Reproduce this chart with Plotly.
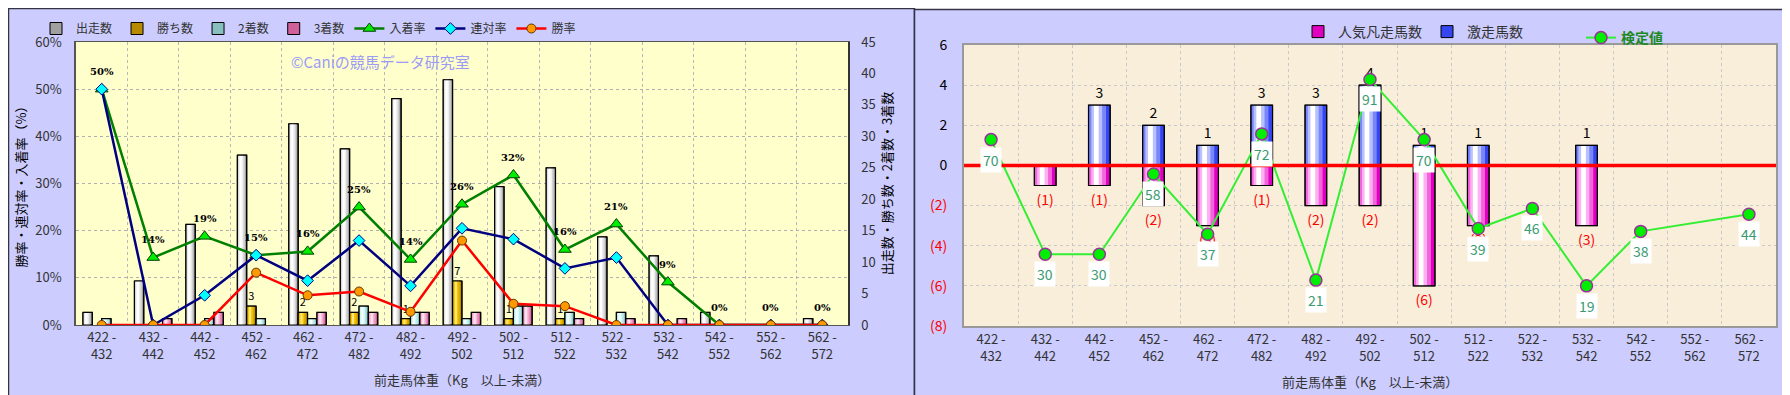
import plotly.graph_objects as go

# ---------------- data ----------------
categories = ["422 -<br>432", "432 -<br>442", "442 -<br>452", "452 -<br>462", "462 -<br>472",
              "472 -<br>482", "482 -<br>492", "492 -<br>502", "502 -<br>512", "512 -<br>522",
              "522 -<br>532", "532 -<br>542", "542 -<br>552", "552 -<br>562", "562 -<br>572"]

# left panel: counts (right axis)
runs = [2, 7, 16, 27, 32, 28, 36, 39, 22, 25, 14, 11, 2, 0, 1]
wins = [0, 0, 0, 3, 2, 2, 1, 7, 1, 1, 0, 0, 0, 0, 0]
seconds = [1, 0, 1, 1, 1, 3, 2, 1, 3, 2, 2, 0, 0, 0, 0]
thirds = [0, 1, 2, 0, 2, 2, 2, 2, 3, 1, 1, 1, 0, 0, 0]

# left panel: rates in % (left axis)
place_rate = [50.0, 14.3, 18.8, 14.8, 15.6, 25.0, 13.9, 25.6, 31.8, 16.0, 21.4, 9.1, 0, 0, 0]
quinella_rate = [50.0, 0, 6.3, 14.8, 9.4, 17.9, 8.3, 20.5, 18.2, 12.0, 14.3, 0, 0, 0, 0]
win_rate = [0, 0, 0, 11.1, 6.3, 7.1, 2.8, 17.9, 4.5, 4.0, 0, 0, 0, 0, 0]
place_labels = ["50%", "14%", "19%", "15%", "16%", "25%", "14%", "26%", "32%", "16%",
                "21%", "9%", "0%", "0%", "0%"]

# right panel
upset_counts = [0, 0, 3, 2, 1, 3, 3, 4, 1, 1, 0, 1, 0, 0, 0]          # 激走馬数
popular_fail = [0, -1, -1, -2, -3, -1, -2, -2, -6, -3, 0, -3, 0, 0, 0]  # 人気凡走馬数
test_values = [70, 30, 30, 58, 37, 72, 21, 91, 70, 39, 46, 19, 38, None, 44]

FONT = "Noto Sans CJK JP, Noto Sans, sans-serif"
W, H = 1790, 395


def px_x(v):
    return v / W


def px_y(v):
    return 1 - v / H


fig = go.Figure()


def nz(vals):
    return [v if v else None for v in vals]


def grad_bar(x, y, xa, ya, offset, width, cols, name, legend, text=None, textcolor="black",
             textsize=11):
    y = nz(y)
    # base (legend) bar
    fig.add_trace(go.Bar(x=x, y=y, xaxis=xa, yaxis=ya, offset=offset, width=width,
                         name=name, legend=legend, legendgroup=name,
                         marker=dict(color=cols[0], line=dict(color="black", width=1)),
                         hoverinfo="skip"))
    # highlight layers (cylinder shading)
    for frac, shift, c in zip([0.78, 0.5, 0.22], [0.08, 0.12, 0.14], cols[1:]):
        w = width * frac
        off = offset + (width - w) / 2 - width * shift
        fig.add_trace(go.Bar(x=x, y=y, xaxis=xa, yaxis=ya, offset=off, width=w,
                             showlegend=False, legendgroup=name, legend=legend,
                             marker=dict(color=c, line=dict(width=0)), hoverinfo="skip"))
    # outline on top, carries value labels
    fig.add_trace(go.Bar(x=x, y=y, xaxis=xa, yaxis=ya, offset=offset, width=width,
                         showlegend=False, legendgroup=name, legend=legend,
                         marker=dict(color="rgba(0,0,0,0)", line=dict(color="black", width=1.2)),
                         text=text, textposition="outside", cliponaxis=False,
                         constraintext="none",
                         textfont=dict(size=textsize, color=textcolor, family=FONT),
                         hoverinfo="skip"))


# ---------- left panel bars (primary y = counts, right side) ----------
bw = 0.182
grad_bar(categories, runs, "x", "y", -0.365, bw, ["#A0A0A0", "#D0D0D0", "#EEEEEE", "#FFFFFF"], "出走数", "legend")
grad_bar(categories, wins, "x", "y", -0.365 + bw, bw, ["#B88A00", "#DDAA00", "#F5C800", "#FFE680"], "勝ち数", "legend",
         text=[str(v) if v else "" for v in wins], textsize=11)
grad_bar(categories, seconds, "x", "y", -0.365 + 2 * bw, bw, ["#88BEBE", "#B4E4E4", "#D4F6F6", "#F2FFFF"], "2着数", "legend")
grad_bar(categories, thirds, "x", "y", -0.365 + 3 * bw, bw, ["#D0609A", "#E890BC", "#F6B8D6", "#FFE4F0"], "3着数", "legend")

# ---------- left panel lines (y2 = %, left side) ----------
fig.add_trace(go.Scatter(x=categories, y=place_rate, xaxis="x", yaxis="y2", name="入着率",
                         legend="legend", mode="lines+markers",
                         line=dict(color="#008000", width=2.5),
                         marker=dict(symbol="triangle-up", size=11, color="#00EE00",
                                     line=dict(color="#004000", width=1)),
                         hoverinfo="skip"))
fig.add_trace(go.Scatter(x=categories, y=quinella_rate, xaxis="x", yaxis="y2", name="連対率",
                         legend="legend", mode="lines+markers",
                         line=dict(color="#000080", width=2.5),
                         marker=dict(symbol="diamond", size=9, color="#00FFFF",
                                     line=dict(color="#000080", width=1)),
                         hoverinfo="skip"))
fig.add_trace(go.Scatter(x=categories, y=win_rate, xaxis="x", yaxis="y2", name="勝率",
                         legend="legend", mode="lines+markers",
                         line=dict(color="#FF0000", width=2.5),
                         marker=dict(symbol="circle", size=9, color="#FF9900",
                                     line=dict(color="#663300", width=1)),
                         hoverinfo="skip"))

# ---------- right panel bars ----------
rw = 0.4
grad_bar(categories, popular_fail, "x2", "y3", -rw / 2, rw,
         ["#E000C0", "#F266DC", "#FFB0F2", "#FFFFFF"],
         "人気凡走馬数", "legend2",
         text=["(%d)" % (-v) if v else "" for v in popular_fail], textcolor="#FF0000", textsize=14)
grad_bar(categories, upset_counts, "x2", "y3", -rw / 2, rw,
         ["#3545F0", "#7886FA", "#B8C0FF", "#FFFFFF"],
         "激走馬数", "legend2",
         text=[str(v) if v else "" for v in upset_counts], textcolor="black", textsize=14)

fig.add_trace(go.Scatter(x=categories, y=test_values, xaxis="x2", yaxis="y4",
                         name="<b>検定値</b>",
                         legend="legend3", mode="lines+markers", connectgaps=True,
                         line=dict(color="#33EE33", width=2),
                         marker=dict(symbol="circle", size=12, color="#00EE00",
                                     line=dict(color="#993399", width=1.5)),
                         hoverinfo="skip"))

annotations = []
for c, v, lab in zip(categories, place_rate, place_labels):
    annotations.append(dict(x=c, y=v, xref="x", yref="y2", text="<b>%s</b>" % lab,
                            showarrow=False, yshift=18,
                            font=dict(size=10, color="black", family="DejaVu Serif, serif")))
for c, v in zip(categories, test_values):
    if v is None:
        continue
    annotations.append(dict(x=c, y=v, xref="x2", yref="y4", text=str(v), showarrow=False,
                            yshift=-20, bgcolor="white", borderpad=2,
                            font=dict(size=14, color="#3A9A72", family=FONT)))
annotations.append(dict(x=px_x(372), y=px_y(53), xref="paper", yref="paper",
                        text="©Caniの競馬データ研究室", showarrow=False,
                        yanchor="middle", xanchor="center",
                        font=dict(size=15, color="#9B9BF5", family=FONT)))
annotations.append(dict(x=px_x(454), y=px_y(371), xref="paper", yref="paper",
                        text="前走馬体重（Kg　以上-未満）", showarrow=False,
                        yanchor="middle", xanchor="center",
                        font=dict(size=13, color="#333333", family=FONT)))
annotations.append(dict(x=px_x(1362), y=px_y(373), xref="paper", yref="paper",
                        text="前走馬体重（Kg　以上-未満）", showarrow=False,
                        yanchor="middle", xanchor="center",
                        font=dict(size=13, color="#333333", family=FONT)))

shapes = [
    # panel backgrounds
    dict(type="rect", xref="paper", yref="paper", x0=px_x(0.5), x1=px_x(906.5), y0=px_y(394.5), y1=px_y(0.5),
         fillcolor="#CCCCFF", line=dict(color="#333344", width=1.5), layer="below"),
    dict(type="rect", xref="paper", yref="paper", x0=px_x(906.5), x1=px_x(1782.5), y0=px_y(394.5), y1=px_y(1.5),
         fillcolor="#CCCCFF", line=dict(color="#333344", width=1.5), layer="below"),
    # plot backgrounds
    dict(type="rect", xref="x domain", yref="y domain", x0=0, x1=1, y0=0, y1=1,
         fillcolor="#FFFFCC", line=dict(width=0), layer="below"),
    dict(type="rect", xref="x2 domain", yref="y3 domain", x0=0, x1=1, y0=0, y1=1,
         fillcolor="#F9EEDA", line=dict(width=0), layer="below"),
    # red baseline at zero on right panel
    dict(type="line", xref="x2 domain", yref="y3", x0=0, x1=1, y0=0, y1=0,
         line=dict(color="#FF0000", width=3.5), layer="above"),
]

lx0, lx1 = px_x(68), px_x(840)
ly0, ly1 = px_y(317), px_y(34)
rx0, rx1 = px_x(956), px_x(1768)
ry0, ry1 = px_y(318), px_y(37)

neg_red = '<span style="color:#FF0000">(%d)</span>'
right_tickvals = [-8, -6, -4, -2, 0, 2, 4, 6]
right_ticktext = [neg_red % (-v) if v < 0 else str(v) for v in right_tickvals]

fig.update_layout(
    width=W, height=H, autosize=False,
    margin=dict(l=0, r=0, t=0, b=0, autoexpand=False),
    paper_bgcolor="white", plot_bgcolor="rgba(0,0,0,0)",
    font=dict(family=FONT, size=12, color="#333333"),
    barmode="overlay",
    showlegend=True,
    xaxis=dict(domain=[lx0, lx1], anchor="y", type="category", range=[-0.5, 14.5],
               tickson="boundaries", showgrid=True, gridcolor="#B8B8B8", griddash="dot",
               ticks="outside", ticklen=4, tickcolor="rgba(0,0,0,0)",
               showline=True, linecolor="#555555", linewidth=1, mirror=True,
               tickfont=dict(size=13, color="#333333"), fixedrange=True),
    yaxis=dict(domain=[ly0, ly1], anchor="x", side="right", range=[0, 45], dtick=5,
               showgrid=False, zeroline=False, showline=True, linecolor="#333333", linewidth=1.5,
               ticks="outside", ticklen=9, tickcolor="rgba(0,0,0,0)",
               tickfont=dict(size=13, color="#333333"),
               title=dict(text="出走数・勝ち数・2着数・3着数", font=dict(size=13, color="black"), standoff=8)),
    yaxis2=dict(overlaying="y", anchor="x", side="left", range=[0, 60], dtick=10, ticksuffix="%",
                showgrid=True, gridcolor="#B0B0B0", griddash="dot", zeroline=False,
                showline=True, linecolor="#555555", linewidth=1.5,
                ticks="outside", ticklen=10, tickcolor="rgba(0,0,0,0)",
                tickfont=dict(size=13, color="#333333"),
                title=dict(text="勝率・連対率・入着率（%）", font=dict(size=13, color="black"), standoff=6)),
    xaxis2=dict(domain=[rx0, rx1], anchor="y3", type="category", range=[-0.5, 14.5],
                tickson="boundaries", showgrid=True, gridcolor="#C8C8C8", griddash="dot",
                ticks="outside", ticklen=4, tickcolor="rgba(0,0,0,0)",
                showline=True, linecolor="#999999", linewidth=2, mirror=True,
                tickfont=dict(size=13, color="#333333"), fixedrange=True),
    yaxis3=dict(domain=[ry0, ry1], anchor="x2", range=[-8, 6], tickvals=right_tickvals,
                ticktext=right_ticktext, showgrid=True, gridcolor="#C8C8C8", griddash="dot",
                zeroline=False, showline=True, linecolor="#999999", linewidth=2, mirror=True,
                ticks="outside", ticklen=12, tickcolor="rgba(0,0,0,0)",
                tickfont=dict(size=14, color="black")),
    yaxis4=dict(overlaying="y3", anchor="x2", range=[5, 103], visible=False),
    legend=dict(orientation="h", x=px_x(28), y=px_y(6), xanchor="left", yanchor="top",
                bgcolor="rgba(0,0,0,0)", font=dict(size=12, color="#333333"),
                itemwidth=30, traceorder="normal"),
    legend2=dict(orientation="h", x=px_x(1290), y=px_y(8), xanchor="left", yanchor="top",
                 bgcolor="rgba(0,0,0,0)", font=dict(size=14, color="#333333"), itemwidth=30),
    legend3=dict(orientation="h", x=px_x(1573), y=px_y(14), xanchor="left", yanchor="top",
                 bgcolor="rgba(0,0,0,0)", font=dict(size=14, color="#1E8A1E"), itemwidth=30),
    annotations=annotations,
    shapes=shapes,
)

fig.write_html("out.html")
